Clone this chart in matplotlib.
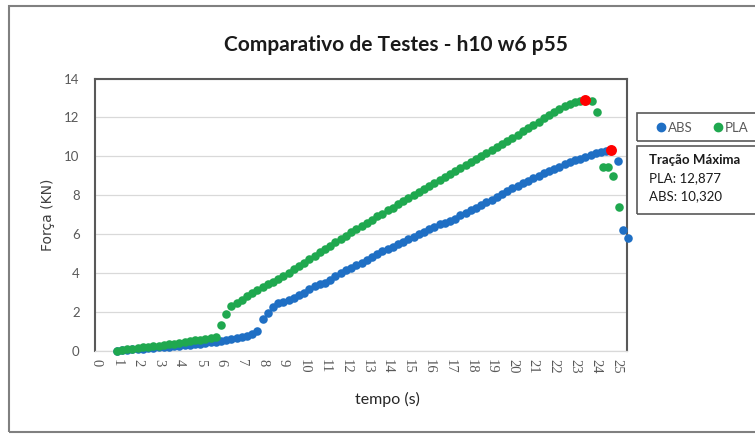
import matplotlib
matplotlib.use("Agg")
import matplotlib.pyplot as plt
from matplotlib.patches import Rectangle
from matplotlib.lines import Line2D
import numpy as np

# ABS test: time (s) and force (kN)
abs_t = [1.00, 1.25, 1.50, 1.75, 2.00, 2.25, 2.50, 2.75, 3.00, 3.25, 3.50, 3.75,
         4.00, 4.25, 4.50, 4.75, 5.00, 5.25, 5.50, 5.75, 6.00, 6.25, 6.50, 6.75,
         7.00, 7.25, 7.50, 7.75, 8.00, 8.25, 8.50, 8.75, 9.00, 9.25, 9.50, 9.75,
         10.00, 10.25, 10.50, 10.75, 11.00, 11.25, 11.50, 11.75, 12.00, 12.25, 12.50, 12.75,
         13.00, 13.25, 13.50, 13.75, 14.00, 14.25, 14.50, 14.75, 15.00, 15.25, 15.50, 15.75,
         16.00, 16.25, 16.50, 16.75, 17.00, 17.25, 17.50, 17.75, 18.00, 18.25, 18.50, 18.75,
         19.00, 19.25, 19.50, 19.75, 20.00, 20.25, 20.50, 20.75, 21.00, 21.25, 21.50, 21.75,
         22.00, 22.25, 22.50, 22.75, 23.00, 23.25, 23.50, 23.75, 24.00, 24.25, 24.50, 24.75,
         25.05, 25.30, 25.55]
abs_f = [0.00, 0.02, 0.04, 0.06, 0.08, 0.10, 0.12, 0.14, 0.16, 0.18, 0.20, 0.22,
         0.25, 0.27, 0.30, 0.33, 0.36, 0.39, 0.42, 0.45, 0.49, 0.53, 0.58, 0.63,
         0.70, 0.77, 0.85, 1.02, 1.62, 1.95, 2.25, 2.42, 2.52, 2.62, 2.72, 2.85,
         2.98, 3.14, 3.32, 3.44, 3.46, 3.64, 3.85, 4.00, 4.13, 4.26, 4.39, 4.52,
         4.65, 4.80, 4.98, 5.10, 5.22, 5.35, 5.48, 5.61, 5.74, 5.86, 5.98, 6.10,
         6.24, 6.38, 6.50, 6.58, 6.64, 6.78, 6.95, 7.08, 7.22, 7.35, 7.48, 7.62,
         7.76, 7.91, 8.06, 8.20, 8.35, 8.48, 8.62, 8.75, 8.88, 9.00, 9.12, 9.24,
         9.36, 9.47, 9.58, 9.68, 9.78, 9.88, 9.98, 10.06, 10.14, 10.21, 10.27, 10.320,
         9.75, 6.20, 5.80]

# PLA test: time (s) and force (kN)
pla_t = [1.00, 1.25, 1.50, 1.75, 2.00, 2.25, 2.50, 2.75, 3.00, 3.25, 3.50, 3.75,
         4.00, 4.25, 4.50, 4.75, 5.00, 5.25, 5.50, 5.75, 6.00, 6.25, 6.50, 6.75,
         7.00, 7.25, 7.50, 7.75, 8.00, 8.25, 8.50, 8.75, 9.00, 9.25, 9.50, 9.75,
         10.00, 10.25, 10.50, 10.75, 11.00, 11.25, 11.50, 11.75, 12.00, 12.25, 12.50, 12.75,
         13.00, 13.25, 13.50, 13.75, 14.00, 14.25, 14.50, 14.75, 15.00, 15.25, 15.50, 15.75,
         16.00, 16.25, 16.50, 16.75, 17.00, 17.25, 17.50, 17.75, 18.00, 18.25, 18.50, 18.75,
         19.00, 19.25, 19.50, 19.75, 20.00, 20.25, 20.50, 20.75, 21.00, 21.25, 21.50, 21.75,
         22.00, 22.25, 22.50, 22.75, 23.00, 23.25, 23.50, 23.80, 24.05, 24.35, 24.60, 24.85,
         25.10]
pla_f = [0.00, 0.04, 0.07, 0.10, 0.13, 0.16, 0.19, 0.22, 0.25, 0.28, 0.31, 0.34,
         0.38, 0.42, 0.47, 0.52, 0.55, 0.58, 0.62, 0.69, 1.30, 1.90, 2.28, 2.45,
         2.62, 2.80, 2.96, 3.12, 3.26, 3.40, 3.52, 3.66, 3.83, 4.00, 4.18, 4.35,
         4.52, 4.70, 4.87, 5.05, 5.22, 5.39, 5.56, 5.74, 5.91, 6.08, 6.26, 6.42,
         6.58, 6.74, 6.90, 7.05, 7.21, 7.36, 7.52, 7.67, 7.83, 7.99, 8.15, 8.30,
         8.46, 8.61, 8.77, 8.92, 9.08, 9.23, 9.39, 9.54, 9.70, 9.85, 10.01, 10.16,
         10.32, 10.47, 10.63, 10.79, 10.95, 11.11, 11.28, 11.45, 11.62, 11.78, 11.95, 12.12,
         12.28, 12.43, 12.56, 12.68, 12.78, 12.85, 12.877, 12.83, 12.30, 9.45, 9.45, 8.96,
         7.38]

x_ticks = list(range(0, 26))
y_ticks = [0, 2, 4, 6, 8, 10, 12, 14]

c_abs = "#1f6fc4"
c_pla = "#1fa84f"
c_max = "#ff0000"
c_axis = "#595959"

W, H = 755, 434
fig = plt.figure(figsize=(W / 100, H / 100), dpi=100)
ax = fig.add_axes([95 / W, 1 - 350.5 / H, 532 / W, 272 / H])

ax.scatter(abs_t, abs_f, s=38, color=c_abs, linewidths=0, zorder=3, clip_on=False)
ax.scatter(pla_t, pla_f, s=38, color=c_pla, linewidths=0, zorder=4, clip_on=False)

# maximum points in red
i_pla = int(np.argmax(pla_f))
i_abs = int(np.argmax(abs_f))
ax.scatter([pla_t[i_pla], abs_t[i_abs]], [pla_f[i_pla], abs_f[i_abs]],
           s=62, color=c_max, linewidths=0, zorder=5, clip_on=False)

ax.set_xlim(-0.05, 25.5)
ax.set_ylim(0, 14)
ax.set_xticks(x_ticks)
ax.set_yticks(y_ticks)
ax.set_xticklabels([str(v) for v in x_ticks], rotation=270, family="Liberation Serif",
                   fontsize=10.5, color=c_axis)
ax.set_yticklabels([str(v) for v in y_ticks], family="Lato", fontsize=9.5, color=c_axis)
ax.tick_params(axis="x", length=0, pad=6)
ax.tick_params(axis="y", length=0, pad=11)
ax.grid(axis="y", color="#d9d9d9", linewidth=0.9)
ax.set_axisbelow(True)
for side in ["left", "top", "right"]:
    ax.spines[side].set_color(c_axis)
    ax.spines[side].set_linewidth(1.5)
ax.spines["bottom"].set_color("#d9d9d9")
ax.spines["bottom"].set_linewidth(0.9)

ax.set_xlabel("tempo (s)", family="Lato", fontsize=11.5, color="#262626")
ax.xaxis.set_label_coords((387 - 95) / 532, (350.5 - 399) / 272)
ax.xaxis.label.set_verticalalignment("center")
ax.set_ylabel("Força (KN)", family="DejaVu Sans", fontsize=10, color="#404040")
ax.yaxis.set_label_coords((48 - 95) / 532, (350.5 - 215) / 272)
ax.yaxis.label.set_verticalalignment("center")

fig.text(396 / W, 1 - 45 / H, "Comparativo de Testes - h10 w6 p55", ha="center", va="center",
         family="Lato", fontweight="bold", fontsize=15, color="#1a1a1a")

# legend box
fig.patches.append(Rectangle((637 / W, 1 - 141 / H), 125 / W, 28 / H, transform=fig.transFigure,
                             fill=False, edgecolor=c_axis, linewidth=1.2))
handles = [Line2D([], [], linestyle="none", marker="o", markersize=6, color=c_abs, label="ABS"),
           Line2D([], [], linestyle="none", marker="o", markersize=6, color=c_pla, label="PLA")]
leg = fig.legend(handles=handles, loc="center left", ncol=2,
                 bbox_to_anchor=(656 / W, 1 - 127.5 / H), borderaxespad=0, borderpad=0,
                 prop={"family": "Lato", "size": 9.5}, handletextpad=0.1, handlelength=0.8,
                 columnspacing=1.5, frameon=False)
for t in leg.get_texts():
    t.set_color(c_axis)

# max traction box
fig.patches.append(Rectangle((637 / W, 1 - 214 / H), 125 / W, 68.5 / H, transform=fig.transFigure,
                             fill=False, edgecolor=c_axis, linewidth=1.2))
fmt = lambda v: f"{v:.3f}".replace(".", ",")
fig.text(649 / W, 1 - 160 / H, "Tração Máxima", family="Lato", fontweight="bold",
         fontsize=9.5, va="center", color="#1a1a1a")
fig.text(649 / W, 1 - 178 / H, f"PLA: {fmt(pla_f[i_pla])}", family="Lato",
         fontsize=9.5, va="center", color="#1a1a1a")
fig.text(649 / W, 1 - 196.5 / H, f"ABS: {fmt(abs_f[i_abs])}", family="Lato",
         fontsize=9.5, va="center", color="#1a1a1a")

# outer chart frame
fig.patches.append(Rectangle((9 / W, 1 - 432 / H), 760 / W, 426 / H, transform=fig.transFigure,
                             fill=False, edgecolor="#808080", linewidth=1.5))

fig.savefig("out.png", dpi=100)
